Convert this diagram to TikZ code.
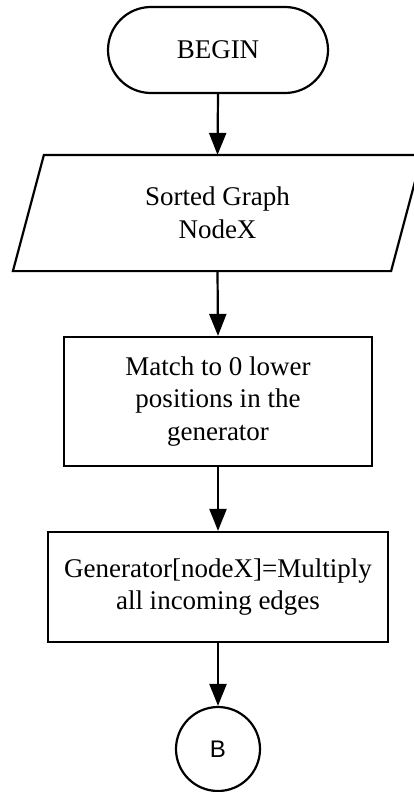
\documentclass[tikz,border=0pt]{standalone}
\usepackage{fontspec}
\setmainfont{Liberation Serif}
\newfontfamily\labelsans{Liberation Sans}
\usetikzlibrary{arrows.meta,calc}
\tikzset{
  base/.style={line width=2.2pt, black, font=\fontsize{27}{32.5}\selectfont, align=center, inner sep=0pt},
  terminal/.style={base, draw, rounded corners=43pt, minimum width=220pt, minimum height=86pt},
  iobox/.style={base, minimum width=376pt, minimum height=114pt},
  procbox/.style={base, draw, rectangle},
  connector/.style={base, draw, circle, minimum size=84pt, font=\labelsans\fontsize{24}{28}\selectfont},
  flow/.style={line width=2.2pt, -{Triangle[length=22pt,width=17pt]}}
}
\begin{document}
\begin{tikzpicture}[x=1pt,y=-1pt]
\useasboundingbox (0,0) rectangle (413,792);
\node[terminal] (begin) at (218,50) {BEGIN};
\node[iobox] (io) at (217.5,213) {Sorted Graph\\NodeX};
\draw[line width=2.2pt, line join=miter]
  ([xshift=15.5pt]io.north west) -- ([xshift=15.5pt]io.north east)
  -- ([xshift=-15.5pt]io.south east) -- ([xshift=-15.5pt]io.south west) -- cycle;
\node[procbox, minimum width=308pt, minimum height=129pt] (match) at (218,401.5) {Match to 0 lower\\positions in the\\generator};
\node[procbox, minimum width=340pt, minimum height=110pt] (gen) at (218,587) {Generator[nodeX]=Multiply\\all incoming edges};
\node[connector] (b) at (218,749) {B};
\draw[flow] (begin.south) -- (io.north);
\draw[flow] (io.south) -- (match.north);
\draw[flow] (match.south) -- (gen.north);
\draw[flow] (gen.south) -- (b.north);
\end{tikzpicture}
\end{document}
